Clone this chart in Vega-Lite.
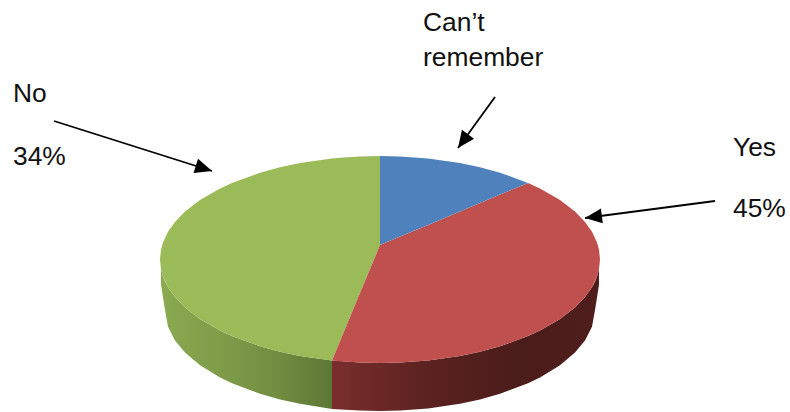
{
  "$schema": "https://vega.github.io/schema/vega-lite/v6.json",
  "width": 790,
  "height": 412,
  "padding": 0,
  "autosize": {"type": "fit", "contains": "padding"},
  "background": "white",
  "config": {"view": {"stroke": null}},
  "datasets": {
    "sideNo": [
      {"u": -219, "rim": -9.9, "base": -25},
      {"u": -217, "rim": -17, "base": -38},
      {"u": -215, "rim": -21.9, "base": -50.5},
      {"u": -212, "rim": -27.7, "base": -67.3},
      {"u": -205, "rim": -37.6, "base": -81},
      {"u": -195, "rim": -47.9, "base": -93},
      {"u": -180, "rim": -59.5, "base": -105.7},
      {"u": -160, "rim": -71, "base": -118},
      {"u": -148, "rim": -76.6, "base": -123.8},
      {"u": -120, "rim": -86.8, "base": -134.3},
      {"u": -100, "rim": -92.2, "base": -139.9},
      {"u": -80, "rim": -96.4, "base": -144.3},
      {"u": -48, "rim": -101, "base": -149.5}
    ],
    "sideYes": [
      {"u": -48, "rim": -101, "base": -149.5},
      {"u": -20, "rim": -103.07, "base": -151.07},
      {"u": 0, "rim": -103.5, "base": -151.5},
      {"u": 20, "rim": -103.07, "base": -151.07},
      {"u": 48, "rim": -101, "base": -149},
      {"u": 80, "rim": -96.4, "base": -144.3},
      {"u": 100, "rim": -92.2, "base": -139.9},
      {"u": 120, "rim": -86.8, "base": -134.3},
      {"u": 148, "rim": -76.6, "base": -123.8},
      {"u": 160, "rim": -71, "base": -118},
      {"u": 180, "rim": -59.5, "base": -105.7},
      {"u": 195, "rim": -47.9, "base": -93},
      {"u": 205, "rim": -37.6, "base": -81},
      {"u": 212, "rim": -27.7, "base": -67.3},
      {"u": 215, "rim": -21.9, "base": -50.5},
      {"u": 217, "rim": -17, "base": -38},
      {"u": 219, "rim": -9.9, "base": -25}
    ],
    "faceNo": [
      {"u": -220, "upper": 0, "lower": 0},
      {"u": -219, "upper": 9.9, "lower": -9.9},
      {"u": -217, "upper": 17, "lower": -17},
      {"u": -212, "upper": 27.7, "lower": -27.7},
      {"u": -205, "upper": 37.6, "lower": -37.6},
      {"u": -195, "upper": 47.9, "lower": -47.9},
      {"u": -180, "upper": 59.5, "lower": -59.5},
      {"u": -160, "upper": 71, "lower": -71},
      {"u": -148, "upper": 76.6, "lower": -76.6},
      {"u": -120, "upper": 86.8, "lower": -86.8},
      {"u": -100, "upper": 92.2, "lower": -92.2},
      {"u": -80, "upper": 96.4, "lower": -96.4},
      {"u": -48, "upper": 101, "lower": -101},
      {"u": -40, "upper": 101.8, "lower": -81.8},
      {"u": -20, "upper": 103.07, "lower": -33.6},
      {"u": 0, "upper": 103.5, "lower": 14.5}
    ],
    "faceYes": [
      {"u": -48, "upper": -101, "lower": -101},
      {"u": -40, "upper": -81.8, "lower": -101.8},
      {"u": -20, "upper": -33.6, "lower": -103.07},
      {"u": 0, "upper": 14.5, "lower": -103.5},
      {"u": 20, "upper": 22.9, "lower": -103.07},
      {"u": 48, "upper": 34.6, "lower": -101},
      {"u": 80, "upper": 48.1, "lower": -96.4},
      {"u": 100, "upper": 56.5, "lower": -92.2},
      {"u": 120, "upper": 64.9, "lower": -86.8},
      {"u": 148, "upper": 76.6, "lower": -76.6},
      {"u": 160, "upper": 71, "lower": -71},
      {"u": 180, "upper": 59.5, "lower": -59.5},
      {"u": 195, "upper": 47.9, "lower": -47.9},
      {"u": 205, "upper": 37.6, "lower": -37.6},
      {"u": 212, "upper": 27.7, "lower": -27.7},
      {"u": 217, "upper": 17, "lower": -17},
      {"u": 219, "upper": 9.9, "lower": -9.9},
      {"u": 220, "upper": 0, "lower": 0}
    ],
    "faceCant": [
      {"u": 0, "upper": 103.5, "lower": 14.5},
      {"u": 20, "upper": 103.07, "lower": 22.9},
      {"u": 48, "upper": 101, "lower": 34.6},
      {"u": 80, "upper": 96.4, "lower": 48.1},
      {"u": 100, "upper": 92.2, "lower": 56.5},
      {"u": 120, "upper": 86.8, "lower": 64.9},
      {"u": 148, "upper": 76.6, "lower": 76.6}
    ],
    "labels": [
      {"u": 43, "v": 228.5, "text": "Can’t"},
      {"u": 43, "v": 193.5, "text": "remember"},
      {"u": -367, "v": 157.5, "text": "No"},
      {"u": -367, "v": 94.5, "text": "34%"},
      {"u": 353, "v": 103.5, "text": "Yes"},
      {"u": 353, "v": 42.5, "text": "45%"}
    ],
    "arrows": [
      {"name": "No", "tailU": -326, "tailV": 138.5, "tipU": -168, "tipV": 88.5},
      {"name": "Cant", "tailU": 115, "tailV": 162.5, "tipU": 78, "tipV": 111.5},
      {"name": "Yes", "tailU": 335, "tailV": 58.5, "tipU": 205, "tipV": 41.5}
    ]
  },
  "encoding": {
    "x": {"field": "u", "type": "quantitative", "axis": null, "scale": {"domain": [-380, 410], "nice": false, "zero": false}},
    "y": {"field": "v", "type": "quantitative", "axis": null, "scale": {"domain": [-152.5, 259.5], "nice": false, "zero": false}}
  },
  "layer": [
    {
      "data": {"name": "sideNo"},
      "mark": {
        "type": "area",
        "color": {"gradient": "linear", "x1": 0, "x2": 1, "y1": 0, "y2": 0, "stops": [
          {"offset": 0, "color": "#8aa950"},
          {"offset": 0.35, "color": "#7f9d49"},
          {"offset": 0.7, "color": "#6f8c40"},
          {"offset": 1, "color": "#5d7835"}
        ]}
      },
      "encoding": {
        "y": {"field": "rim", "type": "quantitative"},
        "y2": {"field": "base"}
      }
    },
    {
      "data": {"name": "sideYes"},
      "mark": {
        "type": "area",
        "color": {"gradient": "linear", "x1": 0, "x2": 1, "y1": 0, "y2": 0, "stops": [
          {"offset": 0, "color": "#7a2e2d"},
          {"offset": 0.35, "color": "#5b2220"},
          {"offset": 0.7, "color": "#4a1c1a"},
          {"offset": 1, "color": "#4f1e1c"}
        ]}
      },
      "encoding": {
        "y": {"field": "rim", "type": "quantitative"},
        "y2": {"field": "base"}
      }
    },
    {
      "data": {"name": "faceNo"},
      "mark": {"type": "area", "color": "#9bbb59"},
      "encoding": {"y": {"field": "upper", "type": "quantitative"}, "y2": {"field": "lower"}}
    },
    {
      "data": {"name": "faceYes"},
      "mark": {"type": "area", "color": "#c0504d"},
      "encoding": {"y": {"field": "upper", "type": "quantitative"}, "y2": {"field": "lower"}}
    },
    {
      "data": {"name": "faceCant"},
      "mark": {"type": "area", "color": "#4f81bd"},
      "encoding": {"y": {"field": "upper", "type": "quantitative"}, "y2": {"field": "lower"}}
    },
    {
      "data": {"name": "arrows"},
      "mark": {"type": "rule", "color": "black", "strokeWidth": 1.8},
      "encoding": {
        "x": {"field": "tailU", "type": "quantitative"},
        "y": {"field": "tailV", "type": "quantitative"},
        "x2": {"field": "tipU"},
        "y2": {"field": "tipV"}
      }
    },
    {
      "data": {"name": "arrows"},
      "transform": [{"filter": "datum.name === 'No'"}],
      "mark": {"type": "point", "filled": true, "opacity": 1, "color": "black", "size": 1156, "angle": 107.6, "shape": "M0,0L-0.44,1L0.44,1Z"},
      "encoding": {
        "x": {"field": "tipU", "type": "quantitative"},
        "y": {"field": "tipV", "type": "quantitative"}
      }
    },
    {
      "data": {"name": "arrows"},
      "transform": [{"filter": "datum.name === 'Cant'"}],
      "mark": {"type": "point", "filled": true, "opacity": 1, "color": "black", "size": 1156, "angle": 216, "shape": "M0,0L-0.44,1L0.44,1Z"},
      "encoding": {
        "x": {"field": "tipU", "type": "quantitative"},
        "y": {"field": "tipV", "type": "quantitative"}
      }
    },
    {
      "data": {"name": "arrows"},
      "transform": [{"filter": "datum.name === 'Yes'"}],
      "mark": {"type": "point", "filled": true, "opacity": 1, "color": "black", "size": 1156, "angle": 263, "shape": "M0,0L-0.44,1L0.44,1Z"},
      "encoding": {
        "x": {"field": "tipU", "type": "quantitative"},
        "y": {"field": "tipV", "type": "quantitative"}
      }
    },
    {
      "data": {"name": "labels"},
      "mark": {"type": "text", "align": "left", "baseline": "alphabetic", "font": "Liberation Sans", "fontSize": 26.4, "color": "#111111"},
      "encoding": {"text": {"field": "text", "type": "nominal"}}
    }
  ]
}
